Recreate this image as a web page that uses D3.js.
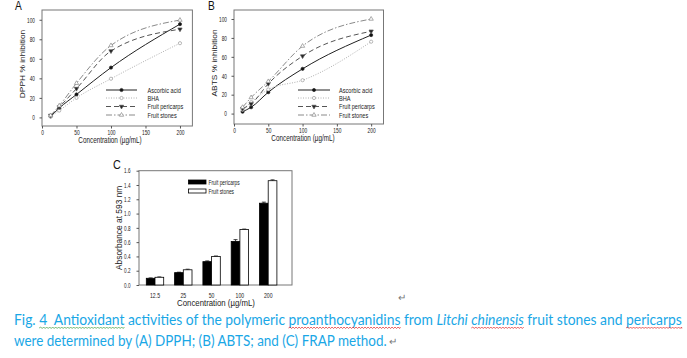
<!DOCTYPE html>
<html><head><meta charset="utf-8">
<script src="https://cdn.jsdelivr.net/npm/d3@7"></script>
<style>body{margin:0;background:#fff}svg{display:block}</style>
</head><body><svg id="c" width="687" height="358" font-family="Liberation Sans, Arial, sans-serif"></svg>
<script>
// ---------- data ----------
const concentrations = [12.5, 25, 50, 100, 200];
const seriesNames = ["Ascorbic acid", "BHA", "Fruit pericarps", "Fruit stones"];
const dpphAscorbic = [1, 9.5, 23.5, 51, 95.5];
const dpphBHA = [1, 7, 20, 39.6, 76];
const dpphPericarps = [2, 10.6, 29.5, 68, 90.3];
const dpphStones = [2, 12, 35, 73.7, 99.7];
const abtsAscorbic = [2, 6.7, 22.6, 47.3, 83];
const abtsBHA = [4, 12, 25.5, 35.3, 76];
const abtsPericarps = [5.3, 10.2, 31.5, 60.8, 87];
const abtsStones = [6.7, 17, 34, 71.4, 100];
const lineTicksX = [0, 50, 100, 150, 200];
const lineTicksY = [0, 20, 40, 60, 80, 100];
const frapCategories = ["12.5", "25", "50", "100", "200"];
const frapSeries = ["Fruit pericarps", "Fruit stones"];
const frapPericarps = [0.094, 0.173, 0.327, 0.61, 1.145];
const frapPericarpsErr = [0.005, 0.006, 0.01, 0.025, 0.015];
const frapStones = [0.108, 0.213, 0.40, 0.777, 1.46];
const frapStonesErr = [0.005, 0.008, 0.006, 0.006, 0.012];
const frapTicksY = [0, 0.2, 0.4, 0.6, 0.8, 1.0, 1.2, 1.4, 1.6];

const svg = d3.select("#c");
const LS = "Liberation Sans, Arial, sans-serif";
const SX = 0.77; // horizontal squeeze of the A/B figure text

function htext(g, x, y, str, size, sx, anchor, fill) {
  return g.append("text").attr("transform", `translate(${x},${y}) scale(${sx},1)`)
    .attr("text-anchor", anchor || "start").attr("font-size", size).attr("fill", fill || "#222").text(str);
}
function styleAxis(a, size, sx, side, off) {
  a.attr("font-family", LS);
  a.select(".domain").remove();
  a.selectAll("line").attr("stroke", "#555");
  a.selectAll("text").attr("font-size", size).attr("fill", "#222").each(function(){
    const t = d3.select(this);
    if (side === "left") t.attr("x", 0).attr("transform", `translate(${-off},0) scale(${sx},1)`);
    else t.attr("y", 0).attr("dy", null).attr("transform", `translate(0,${off}) scale(${sx},1)`);
  });
}

const styles = [
  {stroke:"#222", dash:null, width:1, sym:d3.symbolCircle, fill:"#111", size:8},
  {stroke:"#b0b0b0", dash:"1,1.5", width:1, sym:d3.symbolCircle, fill:"#fff", size:8},
  {stroke:"#555", dash:"5,3", width:1, sym:d3.symbolTriangle, fill:"#222", size:8, rot:180},
  {stroke:"#8a8a8a", dash:"6,2,1.5,2", width:1, sym:d3.symbolTriangle, fill:"#fff", size:8}
];

function linePanel(opt) {
  const g = svg.append("g");
  const x = d3.scaleLinear().domain([0, 218]).range([opt.x0, opt.x1]);
  const y = d3.scaleLinear().domain(opt.yDom).range([opt.yB, opt.yT]);
  g.append("rect").attr("x", opt.x0).attr("y", opt.yT).attr("width", opt.x1 - opt.x0)
    .attr("height", opt.yB - opt.yT).attr("fill", "none").attr("stroke", "#777").attr("stroke-width", 1);
  const ax = g.append("g").attr("transform", `translate(0,${opt.yB})`)
    .call(d3.axisBottom(x).tickValues(lineTicksX).tickSize(2.5));
  const ay = g.append("g").attr("transform", `translate(${opt.x0},0)`)
    .call(d3.axisLeft(y).tickValues(lineTicksY).tickSize(2.5));
  styleAxis(ax, 6.6, 0.74, "bottom", 9);
  styleAxis(ay, 6.6, 0.72, "left", 7);
  ay.selectAll("text").attr("dy", "0.34em");
  const data = opt.series;
  data.forEach((vals, i) => {
    const st = styles[i];
    const pts = concentrations.map((c, k) => [c, vals[k]]);
    g.append("path").attr("d", d3.line().x(d => x(d[0])).y(d => y(d[1])).curve(d3.curveMonotoneX)(pts))
      .attr("fill", "none").attr("stroke", st.stroke).attr("stroke-width", st.width)
      .attr("stroke-dasharray", st.dash);
  });
  data.forEach((vals, i) => {
    const st = styles[i];
    g.selectAll(null).data(concentrations.map((c, k) => [c, vals[k]])).join("path")
      .attr("d", d3.symbol(st.sym, st.size))
      .attr("transform", d => `translate(${x(d[0])},${y(d[1])}) rotate(${st.rot || 0})`)
      .attr("fill", st.fill).attr("stroke", i === 1 ? "#999" : st.stroke).attr("stroke-width", 0.7);
  });
  const rows = [90, 98, 106.5, 115];
  seriesNames.forEach((n, i) => {
    const st = styles[i];
    const ly = rows[i];
    g.append("line").attr("x1", opt.lx0).attr("x2", opt.lx1).attr("y1", ly).attr("y2", ly)
      .attr("stroke", st.stroke).attr("stroke-width", st.width).attr("stroke-dasharray", st.dash);
    g.append("path").attr("d", d3.symbol(st.sym, st.size))
      .attr("transform", `translate(${(opt.lx0 + opt.lx1) / 2},${ly}) rotate(${st.rot || 0})`)
      .attr("fill", st.fill).attr("stroke", i === 1 ? "#999" : st.stroke).attr("stroke-width", 0.7);
    htext(g, opt.tx, ly + 2.5, n, 7.2, 0.78);
  });
  htext(g, opt.xlx, opt.yB + 17, "Concentration (µg/mL)", 8.6, 0.74, "middle");
  g.append("text").attr("transform", `translate(${opt.ylx},${(opt.yT + opt.yB) / 2 - 4}) rotate(-90) scale(1,0.85)`)
    .attr("text-anchor", "middle").attr("font-size", 8.4).attr("fill", "#222").text(opt.ylabel);
  htext(g, opt.letterX, 10, opt.letter, 12, 0.85, "start", "#111");
}

linePanel({x0:42, x1:192.4, yT:10, yB:126, yDom:[-8.8, 110], series:[dpphAscorbic, dpphBHA, dpphPericarps, dpphStones],
  lx0:106, lx1:137, tx:147.5, xlx:110, ylabel:"DPPH % inhibition", ylx:25, letter:"A", letterX:15});
linePanel({x0:234, x1:383.5, yT:10, yB:124, yDom:[-11, 109.5], series:[abtsAscorbic, abtsBHA, abtsPericarps, abtsStones],
  lx0:298, lx1:330, tx:339, xlx:303, ylabel:"ABTS % inhibition", ylx:217, letter:"B", letterX:208});

// ---------- panel C ----------
(function(){
  const g = svg.append("g");
  const fx0 = 139, fx1 = 292, fyT = 170.7, fyB = 285;
  const x0 = d3.scaleBand().domain(frapCategories).range([140.85, 282.35]).padding(0);
  const x1 = d3.scaleBand().domain(frapSeries).range([0, 17.4]).padding(0);
  const off = (x0.bandwidth() - 17.4) / 2;
  const y = d3.scaleLinear().domain([0, 1.6]).range([fyB, fyT]);
  g.append("rect").attr("x", fx0).attr("y", fyT).attr("width", fx1 - fx0).attr("height", fyB - fyT)
    .attr("fill", "none").attr("stroke", "#777");
  const ay = g.append("g").attr("transform", `translate(${fx0},0)`)
    .call(d3.axisLeft(y).tickValues(frapTicksY).tickFormat(d3.format(".1f")).tickSize(2.5));
  styleAxis(ay, 6.4, 0.72, "left", 8.5);
  ay.selectAll("text").attr("dy", "0.34em");
  const ax = g.append("g").attr("transform", `translate(0,${fyB})`)
    .call(d3.axisBottom(x0).tickSize(0));
  styleAxis(ax, 6.6, 0.78, "bottom", 12.5);
  const vals = [frapPericarps, frapStones], errs = [frapPericarpsErr, frapStonesErr];
  frapSeries.forEach((s, si) => {
    frapCategories.forEach((c, k) => {
      const bx = x0(c) + off + x1(s);
      const v = vals[si][k], e = errs[si][k];
      const cx = bx + x1.bandwidth() / 2;
      g.append("line").attr("x1", cx).attr("x2", cx).attr("y1", y(v)).attr("y2", y(v + e)).attr("stroke", "#111").attr("stroke-width", 0.8);
      g.append("line").attr("x1", cx - 2).attr("x2", cx + 2).attr("y1", y(v + e)).attr("y2", y(v + e)).attr("stroke", "#111").attr("stroke-width", 0.8);
      g.append("rect").attr("x", bx).attr("y", y(v)).attr("width", x1.bandwidth()).attr("height", y(0) - y(v))
        .attr("fill", si === 0 ? "#000" : "#fff").attr("stroke", "#000").attr("stroke-width", 0.8);
    });
  });
  frapSeries.forEach((s, i) => {
    const ly = 182 + i * 9;
    g.append("rect").attr("x", 188.5).attr("y", ly - 2).attr("width", 17.5).attr("height", 4)
      .attr("fill", i === 0 ? "#000" : "#fff").attr("stroke", "#000").attr("stroke-width", 0.8);
    htext(g, 208.5, ly + 2.5, s, 7, 0.7);
  });
  htext(g, 216, 306, "Concentration (µg/mL)", 8.4, 0.93, "middle");
  g.append("text").attr("transform", `translate(122,${(fyT + fyB) / 2}) rotate(-90)`).attr("text-anchor", "middle")
    .attr("font-size", 8.4).attr("fill", "#222").text("Absorbance at 593 nm");
  htext(g, 113, 169, "C", 12, 0.9, "start", "#111");
  g.append("text").attr("x", 398).attr("y", 301).attr("font-size", 10).attr("fill", "#777").text("↵");
})();

// ---------- caption ----------
const captionLine1 = [
  {t:"Fig. ", s:null},
  {t:"4  Antioxidant", s:"#3a9a3a"},
  {t:" activities of the polymeric ", s:null},
  {t:"proanthocyanidins", s:"#e02020"},
  {t:" from ", s:null},
  {t:"Litchi", s:null, it:true},
  {t:" ", s:null},
  {t:"chinensis", s:"#e02020", it:true},
  {t:" fruit stones and ", s:null},
  {t:"pericarps", s:"#e02020"}
];
const captionLine2 = [{t:"were determined by (A) DPPH; (B) ABTS; and (C) FRAP method.", s:null}];

function captionLine(parts, x, yb, targetW) {
  const t = svg.append("text").style("font-family", "Lato, 'Open Sans', sans-serif").style("font-size", "15px")
    .attr("fill", "#1aa7e6").style("white-space", "pre");
  const spans = parts.map(p => t.append("tspan").text(p.t).style("font-style", p.it ? "italic" : "normal"));
  const w = t.node().getComputedTextLength();
  const k = targetW / w;
  t.attr("transform", `translate(${x},${yb}) scale(${k},1)`);
  parts.forEach((p, i) => {
    if (!p.s) return;
    const n = spans[i].node();
    const a = n.getStartPositionOfChar(0).x * k + x;
    const b = n.getEndPositionOfChar(p.t.length - 1).x * k + x;
    let d = `M${a},${yb + 3}`;
    for (let xx = a, up = true; xx < b; xx += 1.5, up = !up) d += `L${Math.min(xx + 1.5, b)},${yb + (up ? 2 : 3.5)}`;
    svg.append("path").attr("d", d).attr("fill", "none").attr("stroke", p.s).attr("stroke-width", 0.7);
  });
  return x + targetW;
}
captionLine(captionLine1, 14, 325, 668);
const e2 = captionLine(captionLine2, 14, 346, 373);
svg.append("text").attr("x", e2 + 2).attr("y", 345).attr("font-size", 10).attr("fill", "#777").text("↵");
</script></body></html>
